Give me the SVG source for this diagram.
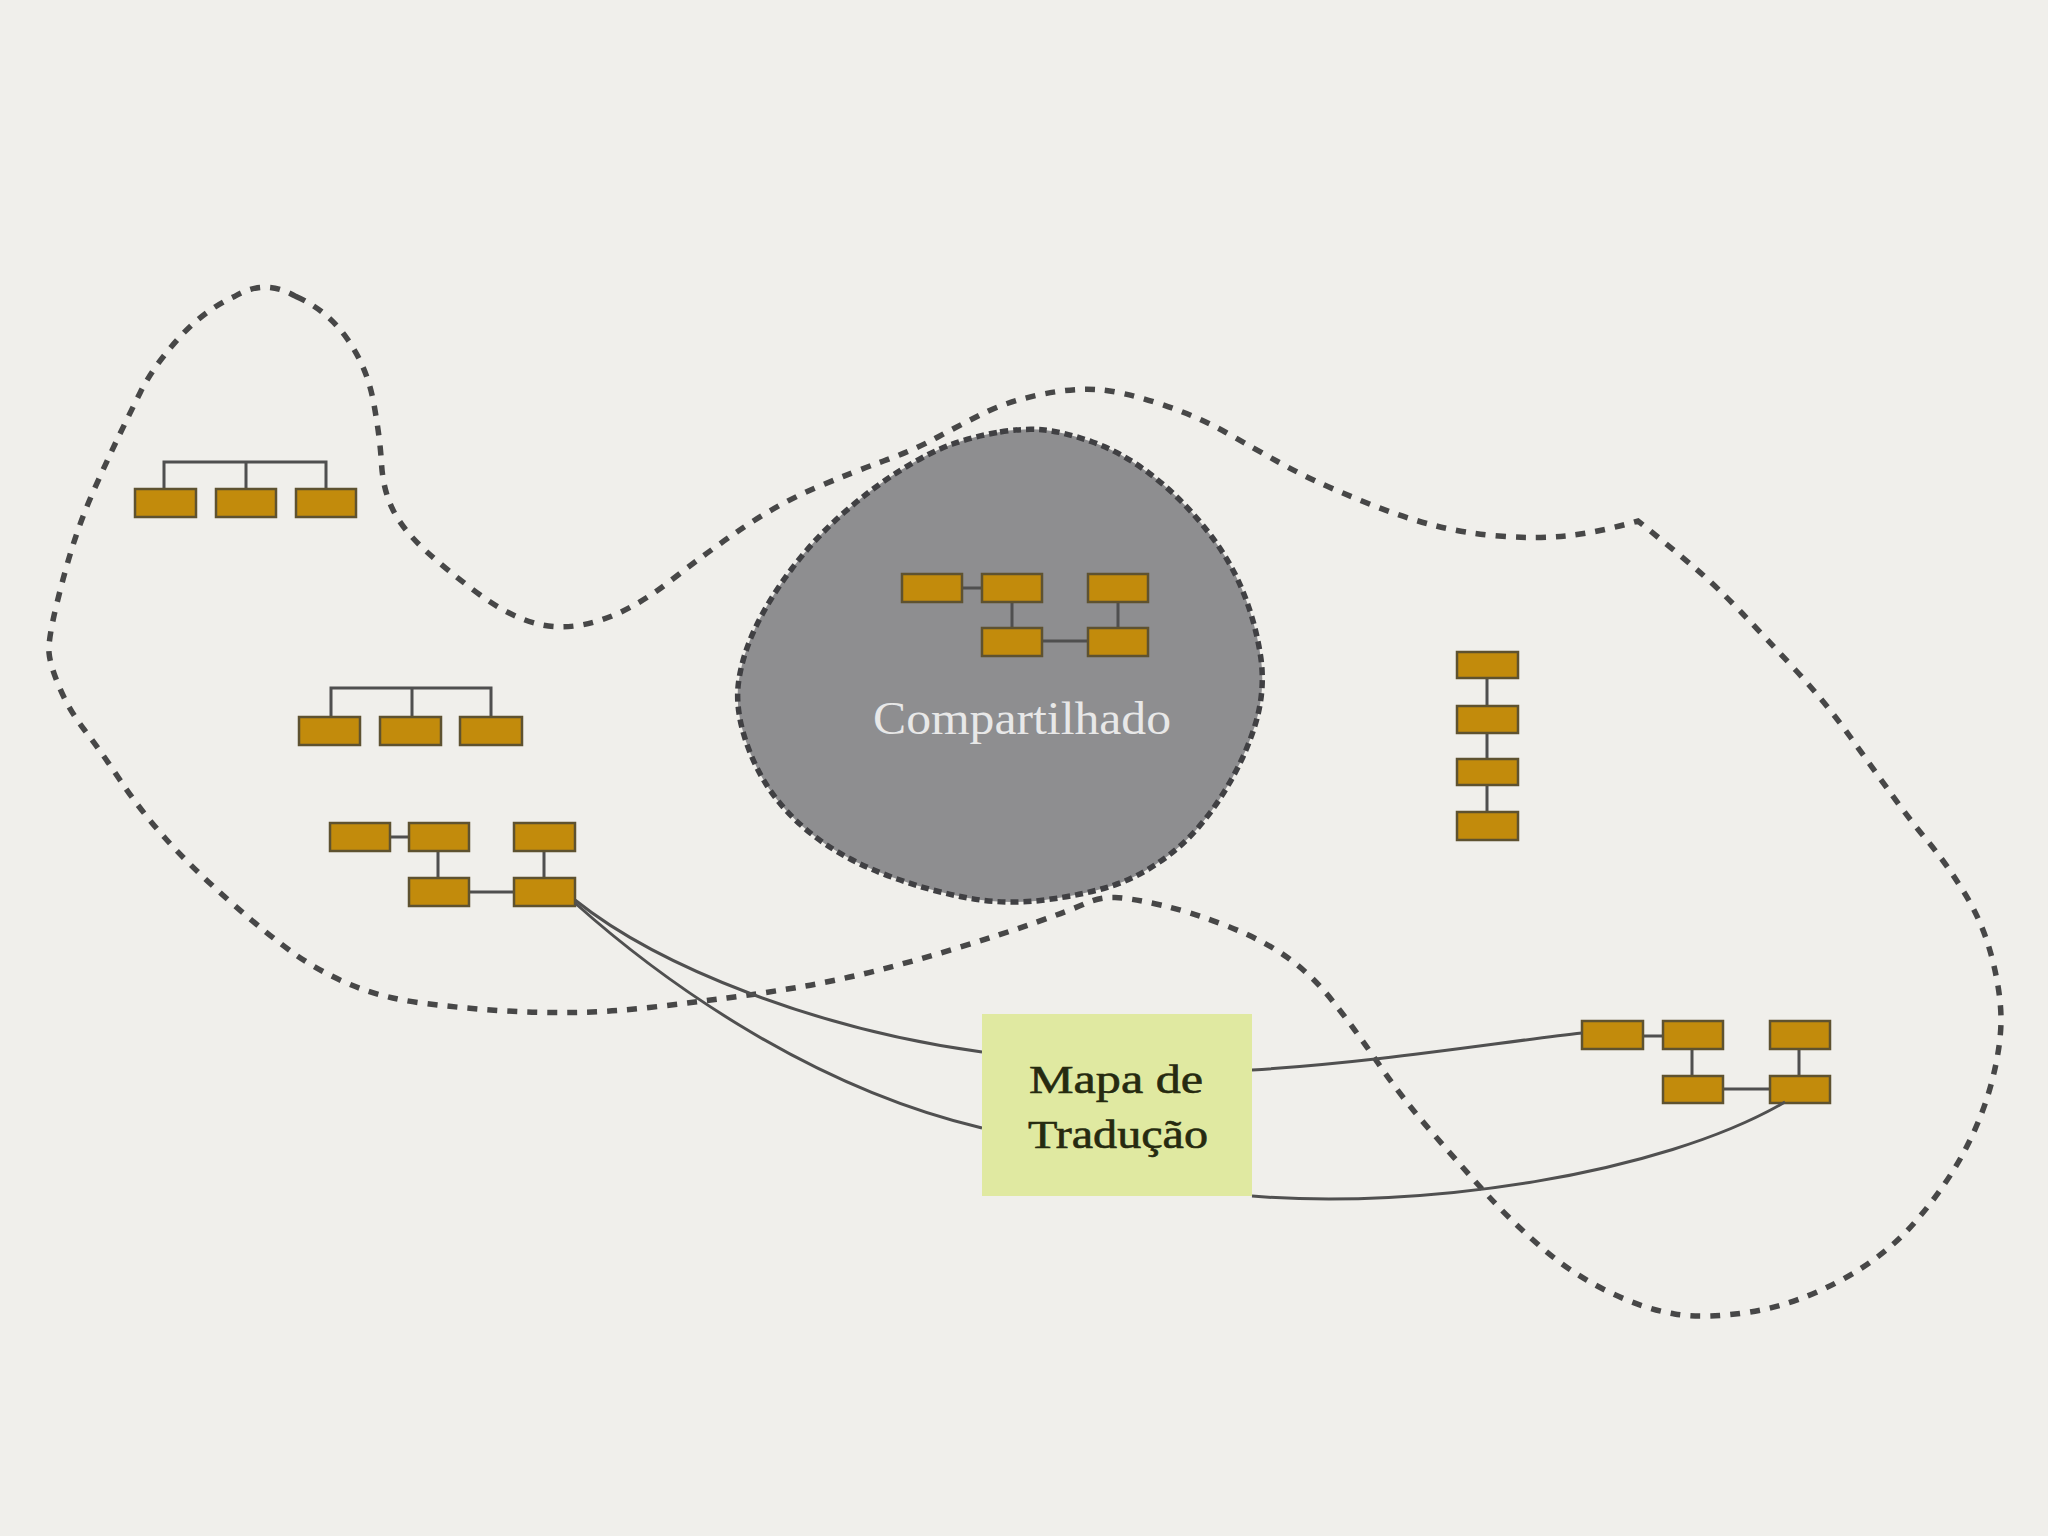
<svg xmlns="http://www.w3.org/2000/svg" width="2048" height="1536" viewBox="0 0 2048 1536">
<style>
.bx{fill:#c28b0c;stroke:#5e5230;stroke-width:2.5}
.ln{fill:none;stroke:#4f4f4f;stroke-width:3}
.ctx{fill:none;stroke:#474747;stroke-width:5.5;stroke-dasharray:10 10}
.shared{fill:#8e8e90;stroke:#404043;stroke-width:5.5;stroke-dasharray:8 5}
.con{fill:none;stroke:#505050;stroke-width:3}
.lbl{font-family:"Liberation Serif","Times New Roman",serif}
</style>
<rect x="0" y="0" width="2048" height="1536" fill="#f0efeb"/>

<g id="context-outline">
<path class="ctx" d="M 296,296.5 Q 327,310 347,338.5 Q 367,367 373.5,402 Q 380,437 381.5,463.5 Q 383,490 393,510 Q 403,530 426,551 Q 449,572 479.5,594.5 Q 510,617 538,624 Q 566,631 599.5,620.5 Q 633,610 671.5,580 Q 710,550 745,526.5 Q 780,503 816.5,487.5 Q 853,472 883.5,461 Q 914,450 937,437.5 Q 960,425 983,413.5 Q 1006,402 1038.5,395 Q 1071,388 1096,389.5 Q 1121,391 1159,403.5 Q 1197,416 1226,432.5 Q 1255,449 1277.5,461.5 Q 1300,474 1321,483.5 Q 1342,493 1372,505 Q 1402,517 1432.5,525 Q 1463,533 1499,536 Q 1535,539 1565.5,536 Q 1596,533 1638,521 Q 1674,550 1695.5,568.5 Q 1717,587 1741,612 Q 1765,637 1795.5,670 Q 1826,703 1850,736.5 Q 1874,770 1892,795 Q 1910,820 1928,841.5 Q 1946,863 1964.5,893 Q 1983,923 1992,958 Q 2001,993 2001,1019.5 Q 2001,1046 1992,1081 Q 1983,1116 1964.5,1151 Q 1946,1186 1916,1221 Q 1886,1256 1840.5,1280.5 Q 1795,1305 1750,1312 Q 1705,1319 1674.5,1314 Q 1644,1309 1608,1291.5 Q 1572,1274 1541.5,1247.5 Q 1511,1221 1487,1194.5 Q 1463,1168 1432.5,1133 Q 1402,1098 1378,1063 Q 1354,1028 1333,1001.5 Q 1312,975 1287.5,957.5 Q 1263,940 1227,926 Q 1191,912 1160.5,905 Q 1130,898 1115,897.5 Q 1100,897 1085.5,903.5 Q 1071,910 1035.5,922.5 Q 1000,935 959,947.5 Q 918,960 879,970 Q 840,980 802.5,986.5 Q 765,993 727,998 Q 689,1003 649.5,1007.5 Q 610,1012 573,1012.5 Q 536,1013 498,1010.5 Q 460,1008 421.5,1003 Q 383,998 351.5,985 Q 320,972 294,953.5 Q 268,935 229.5,901 Q 191,867 165.5,838.5 Q 140,810 120,780 Q 100,750 84.5,730 Q 69,710 59.5,687.5 Q 50,665 49,652.5 Q 48,640 56.5,605 Q 65,570 73.5,543.5 Q 82,517 93.5,491 Q 105,465 116.5,441 Q 128,417 140.5,392 Q 153,367 178.5,338.5 Q 204,310 234.5,296.5 Q 265,278 296,296.5 Z"/>
</g>

<g id="shared">
<path class="shared" d="M 1000,432 Q 1025,428 1044.5,430 Q 1064,432 1092.5,442 Q 1121,452 1149.5,473.5 Q 1178,495 1203,525.5 Q 1228,556 1241.5,588 Q 1255,620 1260.5,655.5 Q 1266,691 1254.5,727 Q 1243,763 1220,798.5 Q 1197,834 1168.5,855.5 Q 1140,877 1111.5,886 Q 1083,895 1044.5,900 Q 1006,905 968,898 Q 930,891 891.5,877 Q 853,863 824.5,843.5 Q 796,824 776.5,799 Q 757,774 746,741.5 Q 735,709 738.5,682.5 Q 742,656 755.5,627.5 Q 769,599 792,568.5 Q 815,538 843.5,513 Q 872,488 901,470 Q 930,452 952.5,444 Q 975,436 1000,432 Z"/>
<text class="lbl" x="1022" y="734" font-size="46" fill="#e8e8e8" text-anchor="middle" textLength="298" lengthAdjust="spacingAndGlyphs">Compartilhado</text>
</g>

<g id="shared-structure">
<path class="ln" d="M962,588 H982 M1012,602 V628 M1118,602 V628 M1042,641 H1088"/>
<rect class="bx" x="902" y="574" width="60" height="28"/>
<rect class="bx" x="982" y="574" width="60" height="28"/>
<rect class="bx" x="1088" y="574" width="60" height="28"/>
<rect class="bx" x="982" y="628" width="60" height="28"/>
<rect class="bx" x="1088" y="628" width="60" height="28"/>
</g>

<g id="hierarchy-top">
<path class="ln" d="M164,489 V462 H326 V489 M246,462 V489"/>
<rect class="bx" x="135" y="489" width="61" height="28"/>
<rect class="bx" x="216" y="489" width="60" height="28"/>
<rect class="bx" x="296" y="489" width="60" height="28"/>
</g>

<g id="hierarchy-middle">
<path class="ln" d="M331,717 V688 H491 V717 M412,688 V717"/>
<rect class="bx" x="299" y="717" width="61" height="28"/>
<rect class="bx" x="380" y="717" width="61" height="28"/>
<rect class="bx" x="460" y="717" width="62" height="28"/>
</g>

<g id="structure-left">
<path class="ln" d="M390,837 H409 M438,852 V878 M544,852 V878 M469,892 H513"/>
<rect class="bx" x="330" y="823" width="60" height="28"/>
<rect class="bx" x="409" y="823" width="60" height="28"/>
<rect class="bx" x="514" y="823" width="61" height="28"/>
<rect class="bx" x="409" y="878" width="60" height="28"/>
<rect class="bx" x="514" y="878" width="61" height="28"/>
</g>

<g id="chain-right">
<path class="ln" d="M1487,678 V812"/>
<rect class="bx" x="1457" y="652" width="61" height="26"/>
<rect class="bx" x="1457" y="706" width="61" height="27"/>
<rect class="bx" x="1457" y="759" width="61" height="26"/>
<rect class="bx" x="1457" y="812" width="61" height="28"/>
</g>

<g id="structure-right">
<path class="ln" d="M1643,1036 H1663 M1692,1049 V1076 M1799,1049 V1076 M1723,1089 H1770"/>
<rect class="bx" x="1582" y="1021" width="61" height="28"/>
<rect class="bx" x="1663" y="1021" width="60" height="28"/>
<rect class="bx" x="1770" y="1021" width="60" height="28"/>
<rect class="bx" x="1663" y="1076" width="60" height="27"/>
<rect class="bx" x="1770" y="1076" width="60" height="27"/>
</g>

<g id="connectors">
<path class="con" d="M 575,900 C 660,968 820,1030 982,1052"/>
<path class="con" d="M 575,903 C 650,970 800,1085 982,1128"/>
<path class="con" d="M 1252,1070 C 1380,1062 1500,1042 1582,1033"/>
<path class="con" d="M 1252,1196 C 1420,1210 1660,1175 1785,1102"/>
</g>

<g id="mapa-traducao">
<rect x="982" y="1014" width="270" height="182" fill="#e0e9a1"/>
<text class="lbl" x="1116" y="1093" font-size="40" fill="#262a10" stroke="#262a10" stroke-width="0.6" text-anchor="middle" textLength="174" lengthAdjust="spacingAndGlyphs">Mapa de</text>
<text class="lbl" x="1118" y="1148" font-size="40" fill="#262a10" stroke="#262a10" stroke-width="0.6" text-anchor="middle" textLength="180" lengthAdjust="spacingAndGlyphs">Tradução</text>
</g>
</svg>
